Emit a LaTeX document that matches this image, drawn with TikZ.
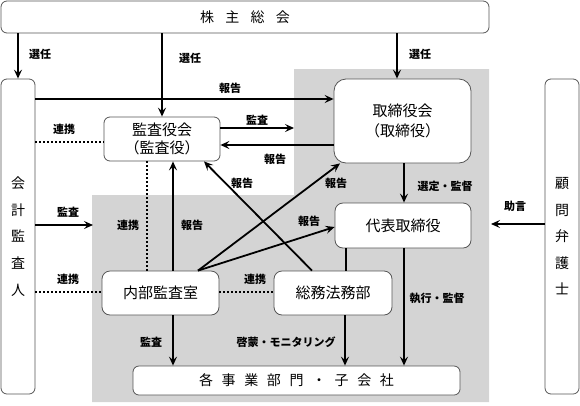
\documentclass[tikz,border=0pt]{standalone}
\usepackage{fontspec}
\setmainfont{Noto Sans CJK JP}
\usetikzlibrary{arrows.meta}
\definecolor{bggray}{RGB}{212,212,212}
\definecolor{boxline}{RGB}{85,85,85}
\newcommand{\gapA}{\hspace{11.3pt}}
\newcommand{\gapB}{\hspace{8.6pt}}
\begin{document}
\begin{tikzpicture}[x=1pt,y=-1pt,
  box/.style={draw=boxline, line width=0.8pt, fill=white, rounded corners=6pt, inner sep=0pt, align=center, font=\fontsize{15}{19}\selectfont},
  arr/.style={line width=1.8pt, -{Stealth[length=9pt,width=8pt,inset=3.5pt]}},
  dotline/.style={line width=2pt, dash pattern=on 2pt off 2pt},
  plainline/.style={line width=1.8pt},
  lbl/.style={font=\fontsize{11}{13}\selectfont\bfseries, inner sep=0pt}]
\useasboundingbox (0,0) rectangle (580,405);
\fill[bggray] (294,69) -- (489,69) -- (489,402) -- (92,402) -- (92,195) -- (294,195) -- cycle;

% boxes
\node[box, minimum width=488pt, minimum height=32pt, font=\fontsize{14}{17}\selectfont] (share) at (245,17) {株\gapA 主\gapA 総\gapA 会};
\node[box, minimum width=34pt, minimum height=315pt, font=\fontsize{14}{26.75}\selectfont] (audit) at (18,236.5) {会\\計\\監\\査\\人};
\node[box, minimum width=34pt, minimum height=315pt, font=\fontsize{14}{26.5}\selectfont] (lawyer) at (562,236.5) {顧\\問\\弁\\護\\士};
\node[box, minimum width=116pt, minimum height=44pt, font=\fontsize{15}{18}\selectfont] (kansa) at (162,139) {監査役会\\（監査役）};
\node[box, rounded corners=12pt, minimum width=137pt, minimum height=84pt, font=\fontsize{15}{20}\selectfont] (board) at (402.5,121) {取締役会\\（取締役）};
\node[box, rounded corners=8pt, minimum width=136pt, minimum height=45pt] (ceo) at (403,225.5) {代表取締役};
\node[box, rounded corners=8pt, minimum width=117pt, minimum height=44pt] (internal) at (160.5,293) {内部監査室};
\node[box, rounded corners=8pt, minimum width=118pt, minimum height=44pt] (general) at (333,293) {総務法務部};
\node[box, minimum width=327pt, minimum height=29pt, font=\fontsize{14}{17}\selectfont] (units) at (296.5,380.5) {各\gapB 事\gapB 業\gapB 部\gapB 門\gapB ・\gapB 子\gapB 会\gapB 社};

% free ends
\coordinate (kansaTo) at (294,128);
\coordinate (adviceTo) at (491,224);
\coordinate (auditTo) at (93,225);

% connectors
\draw[arr] (audit.north |- share.south) -- (audit.north);
\draw[arr] (kansa.north |- share.south) -- (kansa.north);
\draw[arr] (397,0 |- share.south) -- (397,0 |- board.north);
\draw[arr] (audit.east |- 0,99) -- (board.west |- 0,99);
\draw[arr] (kansa.east |- 0,128) -- (kansaTo);
\draw[arr] (board.west |- 0,145) -- (kansa.east |- 0,145);
\draw[dotline] (audit.east |- 0,142) -- (kansa.west |- 0,142);
\draw[arr] (404,0 |- board.south) -- (404,0 |- ceo.north);
\draw[arr] (lawyer.west |- adviceTo) -- (adviceTo);
\draw[arr] (audit.east |- auditTo) -- (auditTo);
\draw[dotline] (147,0 |- kansa.south) -- (147,0 |- internal.north);
\draw[arr] (173,0 |- internal.north) -- (173,0 |- kansa.south);
\draw[arr] (198,0 |- internal.north) -- (340,0 |- board.south);
\draw[arr] (198,0 |- internal.north) -- (ceo.west |- 0,227);
\draw[arr] (312,0 |- general.north) -- (204,0 |- kansa.south);
\draw[dotline] (audit.east |- 0,292) -- (internal.west |- 0,292);
\draw[dotline] (internal.east |- 0,292) -- (general.west |- 0,292);
\draw[plainline] (346,0 |- ceo.south) -- (346,0 |- general.north);
\draw[arr] (173,0 |- internal.south) -- (173,0 |- units.north);
\draw[arr] (345,0 |- general.south) -- (345,0 |- units.north);
\draw[arr] (404,0 |- ceo.south) -- (404,0 |- units.north);

% labels
\node[lbl] (l1) at (40,54) {選任};
\node[lbl] (l2) at (190,58) {選任};
\node[lbl] (l3) at (420,54) {選任};
\node[lbl] (l4) at (230,88) {報告};
\node[lbl] (l5) at (257,120) {監査};
\node[lbl] (l6) at (64,129) {連携};
\node[lbl] (l7) at (275,159) {報告};
\node[lbl] (l8) at (68,212) {監査};
\node[lbl] (l9) at (128,225) {連携};
\node[lbl] (l10) at (192,225) {報告};
\node[lbl] (l11) at (242,183) {報告};
\node[lbl] (l12) at (336,183) {報告};
\node[lbl] (l13) at (309,221) {報告};
\node[lbl] (l14) at (445,186) {選定・監督};
\node[lbl] (l15) at (515,206) {助言};
\node[lbl] (l16) at (68,279) {連携};
\node[lbl] (l17) at (255,279) {連携};
\node[lbl] (l18) at (151,342) {監査};
\node[lbl] (l19) at (286,342) {啓蒙・モニタリング};
\node[lbl] (l20) at (437,298) {執行・監督};
\end{tikzpicture}
\end{document}
